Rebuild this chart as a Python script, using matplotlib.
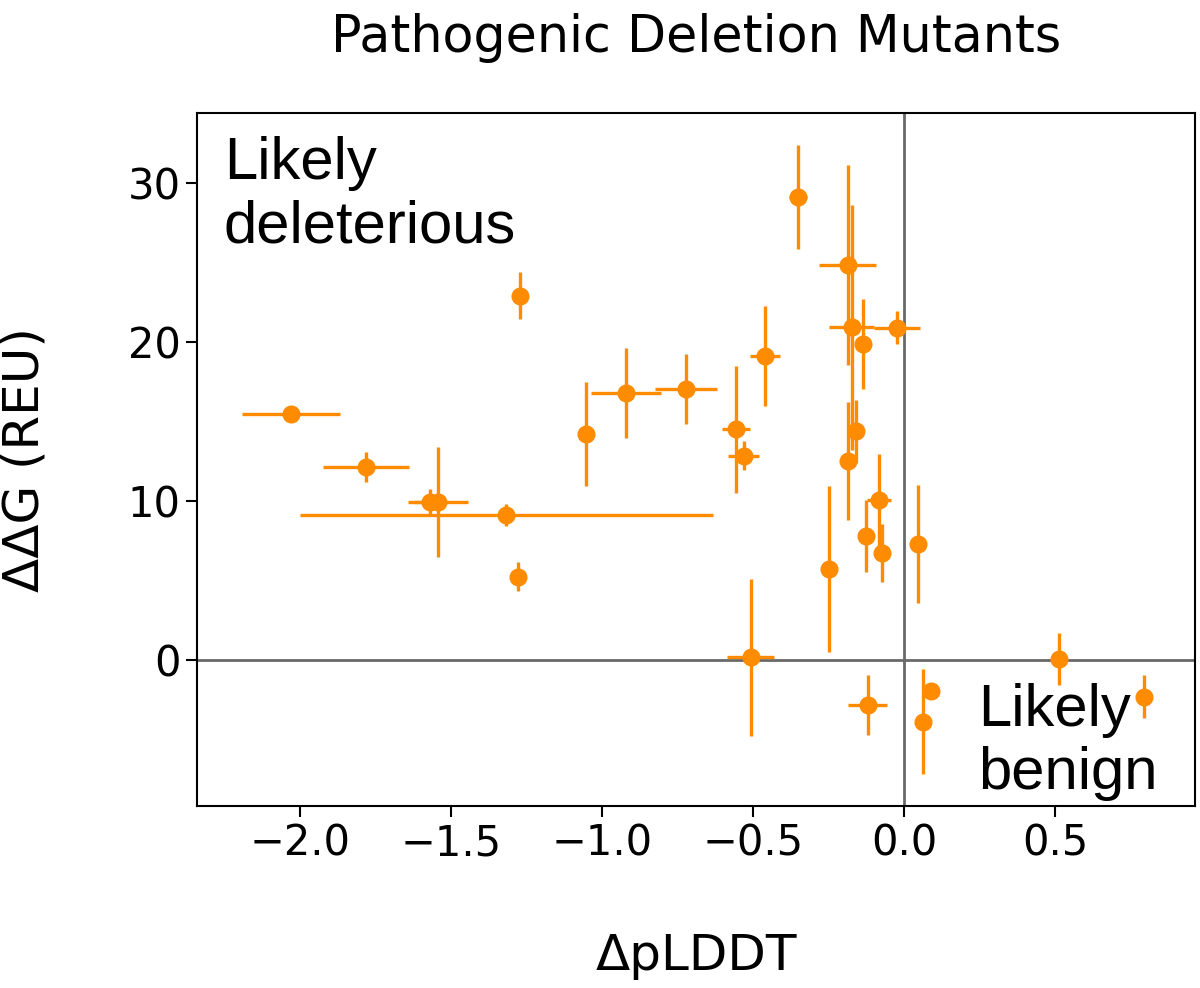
import numpy as np
import matplotlib.pyplot as plt

# values
dplddt = [-2.028, -1.781, -1.570, -1.542, -1.316, -1.279, -1.272, -1.053,
          -0.921, -0.722, -0.556, -0.530, -0.460, -0.508, -0.350, -0.247,
          -0.187, -0.173, -0.185, -0.158, -0.135, -0.125, -0.121, -0.083,
          -0.073, -0.024, 0.046, 0.063, 0.090, 0.511, 0.792]
ddg = [15.47, 12.13, 9.94, 9.94, 9.10, 5.23, 22.90, 14.20,
       16.79, 17.00, 14.49, 12.83, 19.10, 0.15, 29.12, 5.70,
       24.80, 20.92, 12.52, 14.36, 19.87, 7.80, -2.83, 10.02,
       6.71, 20.88, 7.30, -3.88, -1.95, 0.04, -2.31]
dplddt_err = [0.162, 0.143, 0.05, 0.10, 0.683, 0.02, 0.02, 0.02,
              0.116, 0.102, 0.045, 0.051, 0.049, 0.079, 0.03, 0.01,
              0.093, 0.074, 0.01, 0.01, 0.01, 0.01, 0.065, 0.04,
              0.01, 0.075, 0.01, 0.01, 0.01, 0.01, 0.01]
ddg_err = [0.15, 0.96, 0.8, 3.47, 0.7, 0.93, 1.5, 3.25,
           2.83, 2.2, 4.0, 0.92, 3.17, 4.95, 3.27, 5.2,
           6.29, 7.7, 3.7, 2.0, 2.83, 2.25, 1.9, 2.9,
           1.8, 1.03, 3.7, 3.3, 0.5, 1.65, 1.36]

fig = plt.figure(figsize=(12, 9.88), dpi=100)
ax = fig.add_axes([0.164, 0.184, 0.832, 0.702])

ax.axhline(0, color="dimgray", lw=2, zorder=1)
ax.axvline(0, color="dimgray", lw=2, zorder=1)
ax.errorbar(dplddt, ddg, xerr=dplddt_err, yerr=ddg_err, fmt="o", color="darkorange",
            ms=12, elinewidth=2.4, capsize=0, zorder=3)

ax.set_xlim(-2.34, 0.963)
ax.set_ylim(-9.2, 34.4)
ax.set_xticks([-2.0, -1.5, -1.0, -0.5, 0.0, 0.5])
ax.set_yticks([0, 10, 20, 30])
ax.tick_params(labelsize=30, length=8, width=1.5)
for s in ax.spines.values():
    s.set_linewidth(1.5)

ax.set_xlabel("ΔpLDDT", fontsize=36, labelpad=49)
ax.set_ylabel("ΔΔG (REU)", fontsize=36, labelpad=57)
ax.set_title("Pathogenic Deletion Mutants", fontsize=36.5, pad=44)

ax.text(0.027, 0.967, "Likely\ndeleterious", transform=ax.transAxes, ha="left", va="top",
        fontsize=43, family="Liberation Sans")
ax.text(0.783, 0.178, "Likely\nbenign", transform=ax.transAxes, ha="left", va="top",
        fontsize=43, family="Liberation Sans", clip_on=False)

fig.savefig("out.png")
